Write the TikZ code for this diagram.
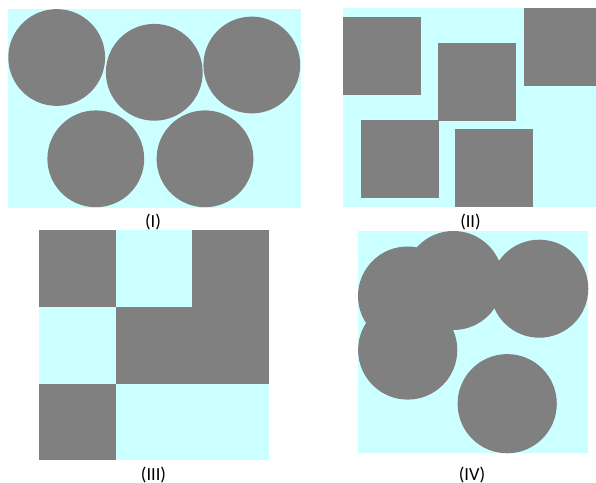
\documentclass[tikz,border=0pt]{standalone}
\usepackage{fontspec}
\setmainfont{Carlito}
\usepackage{tikz}
\definecolor{paleaqua}{HTML}{CCFFFF}
\definecolor{midgray}{HTML}{808080}

\begin{document}
\begin{tikzpicture}[
    x=0.02cm, y=-0.02cm,
    field/.style={fill=paleaqua},
    solid/.style={fill=midgray},
    caption/.style={font=\fontsize{10.5}{12}\selectfont, inner sep=0pt}
]
\useasboundingbox (0,0) rectangle (596,483);
% (I) circles
\fill[field] (8,9) rectangle (301,208);
\fill[solid] (56.7,57.5) circle (48.4);
\fill[solid] (154.3,72.3) circle (48.4);
\fill[solid] (251.8,65) circle (48.4);
\fill[solid] (95.8,158.8) circle (48.4);
\fill[solid] (205,158.8) circle (48.4);
\node[caption] (capI) at (153,222) {(I)};
% (II) squares
\fill[field] (343,8) rectangle (596,207);
\fill[solid] (343,17) rectangle (421,95);
\fill[solid] (438,43) rectangle (516,121);
\fill[solid] (524,8) rectangle (596,86);
\fill[solid] (361,120) rectangle (439,198);
\fill[solid] (455,129) rectangle (533,207);
\node[caption] (capII) at (470.5,222) {(II)};
% (III) grid
\fill[field] (39,230) rectangle (269,460);
\fill[solid] (39,230) rectangle (116,307);
\fill[solid] (192,230) rectangle (269,307);
\fill[solid] (116,307) rectangle (269,384);
\fill[solid] (39,384) rectangle (116,460);
\node[caption] (capIII) at (153.5,475) {(III)};
% (IV) circles
\fill[field] (358,231) rectangle (588,453);
\fill[solid] (407.5,296) circle (49.5);
\fill[solid] (453.5,280.5) circle (49.5);
\fill[solid] (539.3,288.7) circle (49);
\fill[solid] (407.7,350) circle (49.6);
\fill[solid] (507.2,403.7) circle (49.6);
\node[caption] (capIV) at (472,475) {(IV)};
\end{tikzpicture}
\end{document}
